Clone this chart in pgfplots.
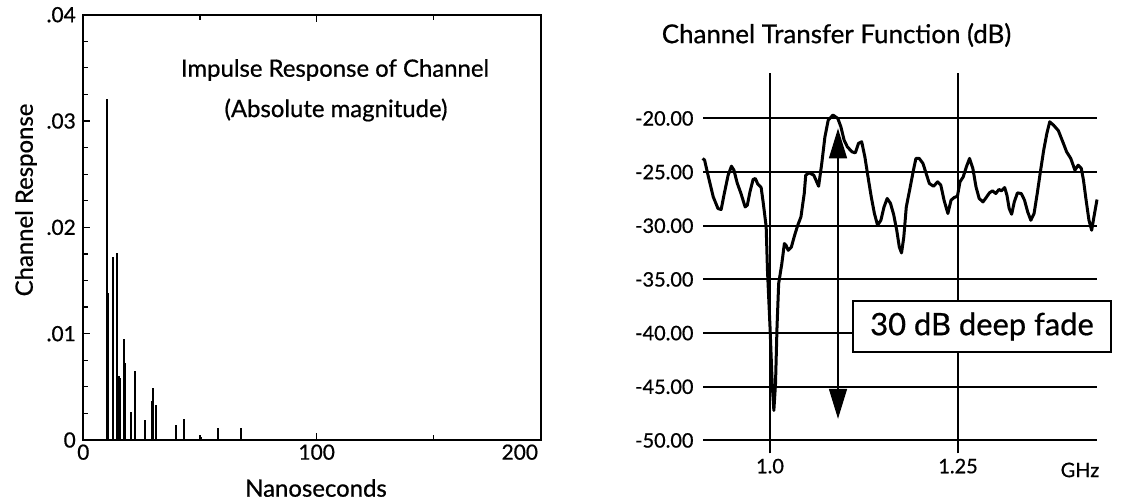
\documentclass[border=0pt]{standalone}
\usepackage{fontspec}
\setmainfont{Lato}[FakeBold=0.7]
\usepackage{pgfplots}
\pgfplotsset{compat=1.18}
\usetikzlibrary{arrows.meta}

\pgfplotstableread{
ns val
10.0 0.0321
10.6 0.0138
12.6 0.0172
14.4 0.0176
15.3 0.0060
15.8 0.0058
17.4 0.0095
17.9 0.0072
20.3 0.0026
22.2 0.0065
26.4 0.0019
29.4 0.0037
30.0 0.0049
31.1 0.0033
39.6 0.0014
43.1 0.0020
50.3 0.0003
57.7 0.0011
67.7 0.0011
}\impulse

\pgfplotstableread{
f db
0.9105 -23.73
0.9130 -23.89
0.9181 -25.45
0.9245 -27.31
0.9308 -28.40
0.9350 -28.49
0.9392 -27.00
0.9443 -25.29
0.9487 -24.45
0.9520 -24.82
0.9563 -26.01
0.9614 -27.00
0.9669 -28.25
0.9698 -28.09
0.9733 -26.85
0.9775 -25.69
0.9805 -25.60
0.9838 -26.13
0.9882 -26.44
0.9911 -27.93
0.9949 -30.11
0.9966 -34.15
1.0000 -39.44
1.0029 -44.72
1.0051 -47.21
1.0073 -44.72
1.0093 -39.44
1.0115 -35.39
1.0157 -33.53
1.0191 -31.66
1.0213 -31.82
1.0242 -32.29
1.0284 -31.98
1.0327 -30.89
1.0369 -29.95
1.0411 -29.18
1.0455 -27.00
1.0475 -25.29
1.0519 -25.07
1.0582 -25.29
1.0646 -26.32
1.0688 -24.20
1.0730 -21.72
1.0774 -20.16
1.0837 -19.69
1.0901 -20.00
1.0942 -20.78
1.0985 -22.02
1.1028 -22.65
1.1091 -23.12
1.1134 -23.21
1.1176 -22.33
1.1219 -22.18
1.1261 -23.58
1.1303 -25.45
1.1346 -27.31
1.1388 -28.86
1.1430 -29.95
1.1474 -29.49
1.1516 -28.25
1.1558 -27.46
1.1601 -27.90
1.1643 -28.93
1.1685 -30.42
1.1719 -31.98
1.1749 -32.54
1.1779 -31.04
1.1812 -28.25
1.1856 -26.69
1.1907 -24.82
1.1940 -23.73
1.1984 -23.73
1.2034 -24.20
1.2076 -25.13
1.2118 -26.06
1.2174 -26.32
1.2229 -25.91
1.2271 -26.22
1.2314 -27.62
1.2365 -28.86
1.2407 -27.62
1.2449 -27.37
1.2492 -27.25
1.2526 -25.91
1.2569 -25.45
1.2611 -24.51
1.2653 -23.73
1.2697 -24.66
1.2739 -26.38
1.2781 -27.46
1.2832 -27.78
1.2875 -27.37
1.2917 -26.94
1.2959 -26.75
1.3002 -27.00
1.3044 -26.62
1.3078 -26.75
1.3120 -26.44
1.3150 -27.15
1.3180 -28.40
1.3213 -28.93
1.3248 -27.78
1.3290 -26.94
1.3341 -27.00
1.3384 -27.62
1.3426 -28.71
1.3468 -29.49
1.3511 -28.86
1.3553 -27.00
1.3595 -24.98
1.3639 -22.96
1.3681 -21.40
1.3719 -20.32
1.3770 -20.63
1.3834 -21.14
1.3901 -22.33
1.3944 -23.12
1.3999 -23.73
1.4054 -24.82
1.4097 -24.36
1.4139 -24.66
1.4168 -25.76
1.4203 -27.62
1.4241 -29.49
1.4277 -30.42
1.4311 -29.02
1.4348 -27.56
}\transfer

\begin{document}
\begin{tikzpicture}[x=1bp,y=1bp]
\path (0,0) rectangle (1131,502);

% ---------------- left: impulse response ----------------
\begin{axis}[
  anchor=south west, at={(83.3bp,62bp)},
  width=457.7bp, height=425.3bp, scale only axis,
  xmin=0, xmax=196.1, ymin=0, ymax=0.04,
  axis line style={line width=2bp},
  tick align=inside,
  tick style={black, line width=1.2bp},
  major tick length=7bp, minor tick length=5bp,
  xtick={0,100,196.1}, xticklabels={0,100,\llap{200\kern3bp}},
  minor xtick={50,150},
  ytick={0,0.01,0.02,0.03,0.04}, yticklabels={0,.01,.02,.03,.04},
  minor ytick={0.0025,0.005,0.0075,0.0125,0.015,0.0175,0.0225,0.025,0.0275,0.0325,0.035,0.0375},
  xtick pos=both, ytick pos=left,
  scaled y ticks=false,
  ticklabel style={font=\fontsize{21}{25}\selectfont},
  xticklabel style={yshift=-1bp},
  yticklabel style={xshift=-4bp},
  clip=false,
]
\addplot[ycomb, black, line width=2.2bp] table[x=ns, y=val] {\impulse};
\end{axis}

\node[font=\fontsize{24}{28}\selectfont] at (316,14) {Nanoseconds};
\node[rotate=90, font=\fontsize{24}{28}\selectfont] at (26,302) {Channel Response};
\node[font=\fontsize{24}{28}\selectfont] at (335,432) {Impulse Response of Channel};
\node[font=\fontsize{24}{28}\selectfont] at (336,392) {(Absolute magnitude)};

% ---------------- right: transfer function ----------------
\begin{axis}[
  anchor=south west, at={(703bp,48.7bp)},
  width=394bp, height=380.3bp, scale only axis,
  xmin=0.9109, xmax=1.4348, ymin=-51.2, ymax=-15.77,
  axis line style={draw=none},
  major tick length=0pt,
  xtick={1.0,1.25}, xticklabels={1.0,1.25},
  ytick={-50,-45,-40,-35,-30,-25,-20},
  yticklabels={-50.00,-45.00,-40.00,-35.00,-30.00,-25.00,-20.00},
  xmajorgrids, ymajorgrids,
  major x grid style={black, line width=1.5bp},
  major y grid style={black, line width=2bp},
  ticklabel style={font=\fontsize{20}{24}\selectfont},
  yticklabel style={xshift=-6bp},
  xticklabel style={yshift=-2bp},
  clip=false,
]
\addplot[black, line width=3bp, line join=round] table[x=f, y=db] {\transfer};
\draw[line width=1.5bp, {Triangle[length=30bp,width=18bp]}-{Triangle[length=30bp,width=18bp]}]
  (axis cs:1.0904,-47.99) -- (axis cs:1.0904,-20.93);
\end{axis}

\node[font=\fontsize{20}{24}\selectfont] at (1080,32) {GHz};
\node[font=\fontsize{26}{30}\selectfont] at (836.5,467) {Channel Transfer Function (dB)};
\node[draw, line width=2bp, fill=white, minimum width=258bp, minimum height=51.6bp,
      inner sep=0pt, font=\fontsize{31}{36}\selectfont] at (982,175.5) {30 dB deep fade};
\end{tikzpicture}
\end{document}
